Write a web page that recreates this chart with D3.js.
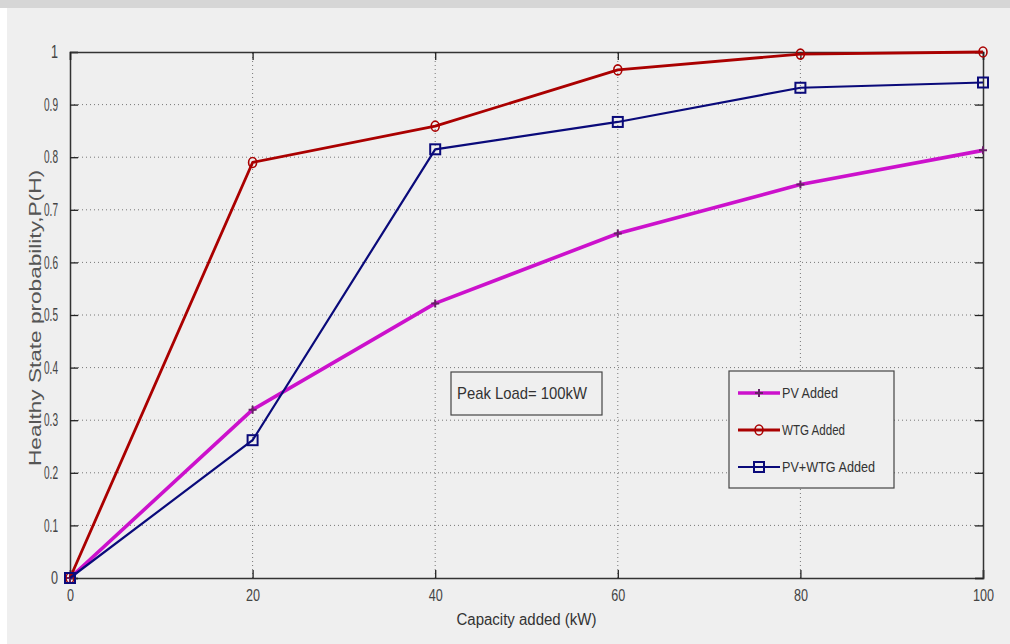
<!DOCTYPE html>
<html>
<head>
<meta charset="utf-8">
<script src="https://cdn.jsdelivr.net/npm/d3@7"></script>
<style>
  body { margin: 0; background: #efefef; }
  svg { display: block; }
</style>
</head>
<body>
<svg id="chart"></svg>
<script>
// capacity added (kW)
const capacity = [0, 20, 40, 60, 80, 100];
// healthy state probability per series
const pvAdded = [0, 0.32, 0.522, 0.655, 0.748, 0.813];
const wtgAdded = [0, 0.79, 0.859, 0.966, 0.996, 1.0];
const pvWtgAdded = [0, 0.262, 0.815, 0.867, 0.932, 0.942];
const seriesNames = ['PV Added', 'WTG Added', 'PV+WTG Added'];
const xTicks = [0, 20, 40, 60, 80, 100];
const yTicks = [0, 0.1, 0.2, 0.3, 0.4, 0.5, 0.6, 0.7, 0.8, 0.9, 1];

const width = 1010, height = 644;
const margin = { top: 52, right: 27, bottom: 66, left: 70 };

const svg = d3.select('#chart')
  .attr('width', width)
  .attr('height', height);

// background, with the white edge and grey strip of the scan
svg.append('rect').attr('width', width).attr('height', height).attr('fill', '#ffffff');
svg.append('rect').attr('x', 7).attr('y', 8).attr('width', width - 7).attr('height', height - 8).attr('fill', '#efefef');
svg.append('rect').attr('width', width).attr('height', 8).attr('fill', '#d6d6d6');

const x = d3.scaleLinear().domain([0, 100]).range([margin.left, width - margin.right]);
const y = d3.scaleLinear().domain([0, 1]).range([height - margin.bottom, margin.top]);

const font = '"Liberation Sans Narrow", "Arial Narrow", "Liberation Sans", sans-serif';

// grid
svg.append('g').selectAll('line').data(xTicks.slice(1, -1)).enter().append('line')
  .attr('x1', d => x(d)).attr('x2', d => x(d))
  .attr('y1', y(0)).attr('y2', y(1))
  .attr('stroke', '#777').attr('stroke-width', 1).attr('stroke-dasharray', '1,3');
svg.append('g').selectAll('line').data(yTicks.slice(1, -1)).enter().append('line')
  .attr('x1', x(0)).attr('x2', x(100))
  .attr('y1', d => y(d)).attr('y2', d => y(d))
  .attr('stroke', '#777').attr('stroke-width', 1).attr('stroke-dasharray', '1,3');

// axes
const xAxis = svg.append('g')
  .attr('transform', `translate(0,${y(0)})`)
  .call(d3.axisBottom(x).tickValues(xTicks).tickSize(-8).tickPadding(12).tickFormat(d3.format('d')));
const yAxis = svg.append('g')
  .attr('transform', `translate(${x(0)},0)`)
  .call(d3.axisLeft(y).tickValues(yTicks).tickSize(-8).tickPadding(12).tickFormat(d => d === 0 ? '0' : d === 1 ? '1' : d3.format('.1f')(d)));
const yAxisR = svg.append('g')
  .attr('transform', `translate(${x(100)},0)`)
  .call(d3.axisRight(y).tickValues(yTicks).tickSize(-8).tickFormat(''));
const xAxisT = svg.append('g')
  .attr('transform', `translate(0,${y(1)})`)
  .call(d3.axisTop(x).tickValues(xTicks).tickSize(-8).tickFormat(''));

[xAxis, yAxis, yAxisR, xAxisT].forEach(g => {
  g.select('.domain').attr('stroke', '#333').attr('stroke-width', 1.5);
  g.selectAll('.tick line').attr('stroke', '#222').attr('stroke-width', 1.3);
  g.selectAll('.tick text').attr('fill', '#444').style('font-family', font).style('font-size', '15px');
});
// the tick labels are narrow in the original
yAxis.selectAll('.tick text')
  .style('font-size', '18px')
  .attr('textLength', d => (d === 0 || d === 1) ? 7 : 14)
  .attr('lengthAdjust', 'spacingAndGlyphs');
xAxis.selectAll('.tick text')
  .style('font-size', '16px')
  .attr('textLength', d => d === 0 ? 7 : d === 100 ? 21 : 14)
  .attr('lengthAdjust', 'spacingAndGlyphs');

// axis titles
svg.append('text')
  .attr('x', (x(0) + x(100)) / 2).attr('y', 625)
  .attr('text-anchor', 'middle')
  .attr('fill', '#333')
  .style('font-family', font).style('font-size', '16px')
  .attr('textLength', 140).attr('lengthAdjust', 'spacingAndGlyphs')
  .text('Capacity added (kW)');
svg.append('text')
  .attr('transform', `translate(41,${(y(0) + y(1)) / 2 + 3}) rotate(-90)`)
  .attr('text-anchor', 'middle')
  .attr('fill', '#555')
  .style('font-family', '"Liberation Sans", Arial, sans-serif').style('font-size', '16px')
  .attr('textLength', 296).attr('lengthAdjust', 'spacingAndGlyphs')
  .text('Healthy State probability,P(H)');

const series = [
  { name: seriesNames[0], values: pvAdded, color: '#cc11cc', width: 3.6, marker: 'plus' },
  { name: seriesNames[1], values: wtgAdded, color: '#aa0000', width: 2.8, marker: 'circle' },
  { name: seriesNames[2], values: pvWtgAdded, color: '#0a0a7a', width: 2.2, marker: 'square' }
];

const line = d3.line().x(d => x(d[0])).y(d => y(d[1]));

function drawMarker(g, kind, color, cx, cy) {
  if (kind === 'plus') {
    g.append('path')
      .attr('d', `M${cx - 4},${cy}L${cx + 4},${cy}M${cx},${cy - 4}L${cx},${cy + 4}`)
      .attr('stroke', '#662266').attr('stroke-width', 2).attr('fill', 'none');
  } else if (kind === 'circle') {
    g.append('ellipse').attr('cx', cx).attr('cy', cy).attr('rx', 4).attr('ry', 5)
      .attr('fill', 'none').attr('stroke', color).attr('stroke-width', 1.6);
  } else {
    g.append('rect').attr('x', cx - 5).attr('y', cy - 5).attr('width', 10).attr('height', 10)
      .attr('fill', 'none').attr('stroke', color).attr('stroke-width', 2);
  }
}

series.forEach(s => {
  const pts = capacity.map((c, i) => [c, s.values[i]]);
  svg.append('path')
    .datum(pts)
    .attr('d', line)
    .attr('fill', 'none')
    .attr('stroke', s.color)
    .attr('stroke-width', s.width)
    .attr('stroke-linejoin', 'round');
  const mg = svg.append('g');
  pts.forEach(p => drawMarker(mg, s.marker, s.color, x(p[0]), y(p[1])));
});

// annotation box
svg.append('rect')
  .attr('x', 451).attr('y', 372).attr('width', 151).attr('height', 43)
  .attr('fill', '#efefef').attr('stroke', '#444').attr('stroke-width', 1.2);
svg.append('text')
  .attr('x', 522).attr('y', 399)
  .attr('text-anchor', 'middle')
  .attr('fill', '#333')
  .style('font-family', font).style('font-size', '17px')
  .attr('textLength', 130).attr('lengthAdjust', 'spacingAndGlyphs')
  .text('Peak Load= 100kW');

// legend
const legend = svg.append('g');
legend.append('rect')
  .attr('x', 729).attr('y', 371).attr('width', 165).attr('height', 117)
  .attr('fill', '#efefef').attr('stroke', '#444').attr('stroke-width', 1.2);
series.forEach((s, i) => {
  const ly = 393 + i * 37;
  legend.append('line')
    .attr('x1', 738).attr('x2', 780).attr('y1', ly).attr('y2', ly)
    .attr('stroke', s.color).attr('stroke-width', s.width);
  drawMarker(legend, s.marker, s.color, 759, ly);
  legend.append('text')
    .attr('x', 782).attr('y', ly + 5)
    .attr('fill', '#333')
    .style('font-family', font).style('font-size', '15px')
    .attr('textLength', [56, 63, 93][i]).attr('lengthAdjust', 'spacingAndGlyphs')
    .text(s.name);
});
</script>
</body>
</html>
